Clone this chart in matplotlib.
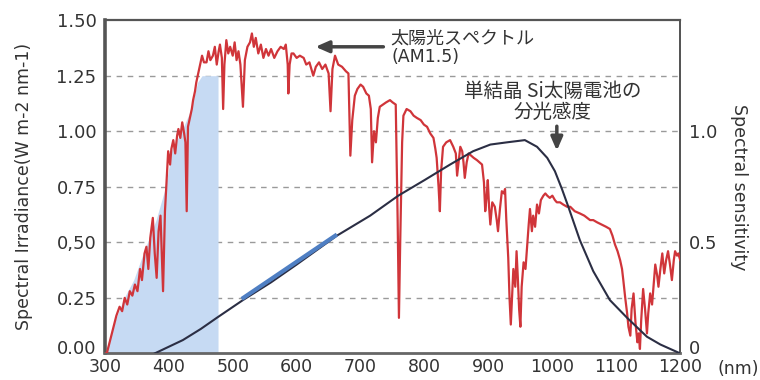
import numpy as np
import matplotlib
matplotlib.use("Agg")
import matplotlib.pyplot as plt
import matplotlib.transforms as mtransforms

# ---------------- data ----------------
spec_wl = [300, 303, 310, 318, 323, 327, 331, 335, 339, 343, 347, 351, 355, 358, 362, 365, 368, 371,
           375, 378, 381, 384, 387, 391, 394, 397, 399, 402, 404, 407, 410, 413, 415, 418, 421, 424,
           426, 428, 430, 433, 436, 438, 441, 443, 446, 449, 452, 455, 459, 462, 465, 469, 472, 475,
           478, 480, 483, 485, 487, 490, 493, 496, 500, 503, 506, 509, 512, 516, 519, 523, 527, 530,
           533, 536, 540, 544, 548, 552, 556, 560, 565, 570, 575, 580, 583, 586, 587, 589, 592, 595,
           600, 605, 611, 615, 620, 626, 630, 635, 640, 645, 650, 653, 656, 660, 665, 671, 677, 681,
           684, 687, 691, 695, 700, 704, 709, 713, 716, 718, 721, 724, 727, 730, 735, 740, 746, 750,
           755, 758, 760, 762, 765, 767, 772, 778, 783, 788, 794, 799, 804, 809, 814, 817, 819, 822,
           824, 826, 829, 834, 840, 845, 849, 851, 854, 856, 859, 861, 863, 866, 869, 873, 877, 882,
           886, 890, 893, 895, 897, 899, 901, 903, 906, 910, 913, 915, 918, 921, 924, 926, 928, 931,
           933, 935, 937, 939, 942, 944, 946, 948, 950, 952, 955, 958, 961, 963, 965, 968, 970, 973,
           976, 979, 982, 986, 989, 992, 996, 1000, 1004, 1007, 1012, 1017, 1023, 1028, 1035, 1043,
           1050, 1059, 1064, 1070, 1077, 1084, 1090, 1094, 1098, 1102, 1106, 1109, 1111, 1114, 1117,
           1119, 1122, 1124, 1127, 1130, 1133, 1135, 1137, 1139, 1142, 1145, 1148, 1150, 1153, 1156,
           1159, 1161, 1164, 1166, 1169, 1172, 1175, 1178, 1181, 1184, 1187, 1190, 1192, 1195, 1197,
           1200]
spec_val = [0.00, 0.00, 0.08, 0.17, 0.21, 0.19, 0.25, 0.22, 0.28, 0.26, 0.31, 0.28, 0.38, 0.33, 0.45,
            0.48, 0.38, 0.52, 0.61, 0.45, 0.34, 0.55, 0.62, 0.28, 0.64, 0.80, 0.91, 0.85, 0.92, 0.96,
            0.90, 0.98, 1.01, 0.97, 1.04, 0.99, 0.95, 0.64, 1.02, 1.06, 1.10, 1.14, 1.18, 1.22, 1.26,
            1.30, 1.34, 1.31, 1.31, 1.36, 1.32, 1.34, 1.38, 1.30, 1.36, 1.39, 1.33, 1.10, 1.30, 1.41,
            1.35, 1.38, 1.34, 1.40, 1.32, 1.36, 1.30, 1.11, 1.32, 1.38, 1.40, 1.44, 1.38, 1.42, 1.35,
            1.39, 1.33, 1.37, 1.34, 1.37, 1.33, 1.36, 1.38, 1.37, 1.39, 1.30, 1.17, 1.30, 1.35, 1.35,
            1.33, 1.34, 1.33, 1.30, 1.31, 1.25, 1.29, 1.31, 1.28, 1.30, 1.26, 1.09, 1.28, 1.34, 1.30,
            1.29, 1.27, 1.26, 0.89, 1.05, 1.16, 1.19, 1.21, 1.20, 1.17, 1.16, 1.10, 0.86, 1.00, 0.95,
            1.06, 1.11, 1.12, 1.13, 1.14, 1.13, 1.12, 0.60, 0.16, 0.50, 0.95, 1.07, 1.10, 1.09, 1.07,
            1.06, 1.05, 1.03, 1.02, 0.99, 0.97, 0.92, 0.88, 0.75, 0.64, 0.82, 0.93, 0.95, 0.96, 0.93,
            0.90, 0.80, 0.88, 0.93, 0.91, 0.86, 0.79, 0.86, 0.90, 0.89, 0.88, 0.87, 0.86, 0.85, 0.77,
            0.64, 0.70, 0.78, 0.66, 0.58, 0.68, 0.66, 0.60, 0.55, 0.65, 0.73, 0.72, 0.74, 0.60, 0.43,
            0.25, 0.13, 0.26, 0.38, 0.30, 0.46, 0.34, 0.20, 0.12, 0.30, 0.41, 0.38, 0.50, 0.58, 0.65,
            0.55, 0.62, 0.57, 0.67, 0.63, 0.69, 0.71, 0.72, 0.71, 0.70, 0.71, 0.69, 0.68, 0.68, 0.67,
            0.66, 0.66, 0.64, 0.63, 0.62, 0.60, 0.60, 0.59, 0.58, 0.57, 0.56, 0.53, 0.49, 0.46, 0.42,
            0.38, 0.33, 0.25, 0.18, 0.12, 0.08, 0.20, 0.27, 0.14, 0.05, 0.09, 0.02, 0.15, 0.29, 0.20,
            0.09, 0.18, 0.27, 0.22, 0.33, 0.40, 0.35, 0.30, 0.38, 0.45, 0.36, 0.42, 0.46, 0.40, 0.33,
            0.42, 0.46, 0.44, 0.45, 0.42]

sens_wl = [378, 400, 422, 450, 475, 516, 560, 600, 663, 715, 759, 800, 840, 876, 903, 929, 957,
           976, 992, 1004, 1015, 1025, 1043, 1064, 1090, 1117, 1148, 1169, 1200]
sens_val = [0.00, 0.03, 0.06, 0.11, 0.16, 0.24, 0.32, 0.40, 0.53, 0.62, 0.71, 0.78, 0.85, 0.91,
            0.94, 0.95, 0.96, 0.93, 0.88, 0.82, 0.74, 0.66, 0.51, 0.37, 0.24, 0.16, 0.075, 0.04, 0.0]

hl_wl = [514, 663]
hl_val = [0.245, 0.535]

fill_wl = [300, 315, 330, 345, 360, 380, 395, 405, 420, 435, 445, 452, 477]
fill_val = [0.00, 0.14, 0.25, 0.33, 0.45, 0.60, 0.75, 0.92, 1.00, 1.10, 1.22, 1.25, 1.25]

x_ticks = [300, 400, 500, 600, 700, 800, 900, 1000, 1100, 1200]
y_ticks = [0.0, 0.25, 0.5, 0.75, 1.0, 1.25, 1.5]
y_labels = ["0.00", "0.25", "0,50", "0.75", "1.00", "1.25", "1.50"]
r_ticks = [0.0, 0.5, 1.0]
r_labels = ["0", "0.5", "1.0"]

# ---------------- figure ----------------
JP = ["Noto Sans CJK JP", "DejaVu Sans"]
fig = plt.figure(figsize=(7.6, 3.8), dpi=100)
ax = fig.add_axes([0.138, 0.07, 0.757, 0.877])
ax.set_xlim(300, 1200)
ax.set_ylim(0, 1.5)

# grid
for yv in [0.25, 0.5, 0.75, 1.0, 1.25]:
    ax.axhline(yv, color="#9a9a9a", lw=1.0, ls=(0, (4, 4)), zorder=1)

# blue shaded region
ax.fill_between(fill_wl, 0, fill_val, color="#c6daf3", lw=0, zorder=2)

# spectrum
ax.plot(spec_wl, spec_val, color="#d0353a", lw=1.6, zorder=4)
# sensitivity
ax.plot(sens_wl, sens_val, color="#2b2e44", lw=1.5, zorder=5)
ax.plot(hl_wl, hl_val, color="#4f7fc3", lw=3.0, solid_capstyle="butt", zorder=6)

# axes styling
ax.set_xticks(x_ticks)
ax.set_xticklabels([str(v) for v in x_ticks])
ax.set_yticks(y_ticks)
ax.set_yticklabels(y_labels)
ax.tick_params(length=0, labelsize=13, colors="#333333")
ax.tick_params(axis="y", pad=6)
ax.tick_params(axis="x", pad=3, labelsize=12.5)
ax.spines["left"].set_linewidth(2.6)
ax.spines["left"].set_color("#555555")
ax.spines["bottom"].set_linewidth(2.0)
ax.spines["bottom"].set_color("#666666")
ax.spines["top"].set_linewidth(1.6)
ax.spines["top"].set_color("#555555")
ax.spines["right"].set_linewidth(1.3)
ax.spines["right"].set_color("#444444")

ax.set_ylabel("Spectral Irradiance(W m-2 nm-1)", fontsize=12.5, color="#333333", labelpad=17)

ax2 = ax.twinx()
ax2.set_ylim(0, 1.5)
ax2.set_yticks(r_ticks)
ax2.set_yticklabels(r_labels)
ax2.tick_params(length=0, labelsize=13, colors="#333333", pad=6)
for s in ax2.spines.values():
    s.set_visible(False)
ax2.set_ylabel("Spectral sensitivity", fontsize=12.5, color="#333333", rotation=-90, labelpad=22)

# nudge the bottom-most y labels up so they clear the x tick labels
def nudge_up(lbl, px):
    lbl.set_transform(lbl.get_transform() +
                      mtransforms.ScaledTranslation(0, px / 100, fig.dpi_scale_trans))

nudge_up(ax.get_yticklabels()[0], 6)
nudge_up(ax2.get_yticklabels()[0], 6)

fig.text(0.972, 0.030, "(nm)", fontsize=12.5, color="#333333", ha="center", va="center")

# annotations
ax.annotate("", xy=(625, 1.38), xytext=(740, 1.38),
            arrowprops=dict(arrowstyle="-|>,head_length=0.8,head_width=0.35", color="#444444", lw=2.5),
            zorder=7)
ax.text(746, 1.418, "太陽光スペクトル", family=JP, fontsize=13, color="#333333", va="center", ha="left")
ax.text(748, 1.332, "(AM1.5)", family="DejaVu Sans", fontsize=12.5, color="#333333", va="center", ha="left")
ax.text(1000, 1.178, "単結晶 Si太陽電池の", family=JP, fontsize=14, color="#333333", va="center", ha="center")
ax.text(1000, 1.083, "分光感度", family=JP, fontsize=14, color="#333333", va="center", ha="center")
ax.annotate("", xy=(1007, 0.90), xytext=(1007, 1.035),
            arrowprops=dict(arrowstyle="-|>,head_length=0.8,head_width=0.35", color="#444444", lw=2.5),
            zorder=7)

fig.savefig("out.png", dpi=100)
